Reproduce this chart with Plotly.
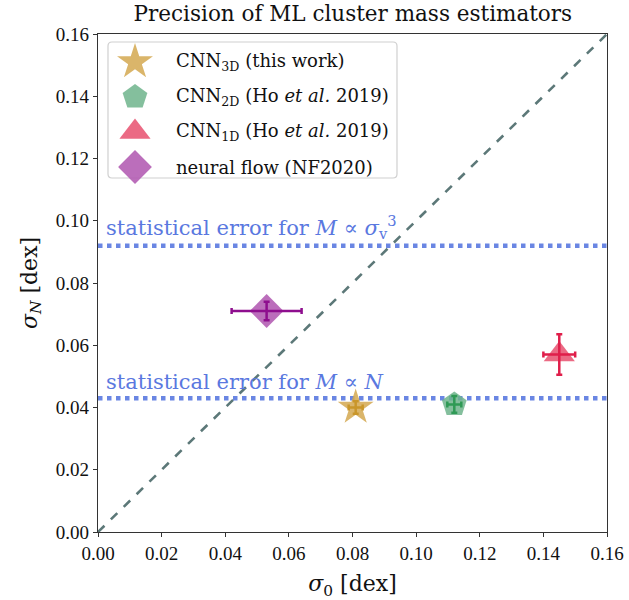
import plotly.graph_objects as go

# ---- data ----
names = ["CNN<sub>3D</sub> (this work)",
         "CNN<sub>2D</sub> (Ho <i>et al.</i> 2019)",
         "CNN<sub>1D</sub> (Ho <i>et al.</i> 2019)",
         "neural flow (NF2020)"]
sigma0 = [0.081, 0.112, 0.145, 0.053]
sigma0_err = [0.0022, 0.0022, 0.005, 0.011]
sigmaN = [0.040, 0.041, 0.057, 0.071]
sigmaN_err = [0.002, 0.0027, 0.0065, 0.003]
symbols = ["star", "pentagon", "triangle-up", "diamond"]
sizes = [27, 26, 27, 26]
fill_colors = ["rgba(212,168,80,0.85)", "rgba(110,180,140,0.85)",
               "rgba(232,80,110,0.85)", "rgba(175,85,175,0.85)"]
err_colors = ["#c9962a", "#2f9a55", "#e01e4a", "#8e0e8e"]

line_levels = [0.092, 0.043]
line_labels = ["statistical error for <i>M</i> ∝ <i>σ</i><sub>v</sub><sup>3</sup>",
               "statistical error for <i>M</i> ∝ <i>N</i>"]
label_y = [0.0955, 0.0465]
diag = [0.0, 0.16]
x_ticks = [0.0, 0.02, 0.04, 0.06, 0.08, 0.10, 0.12, 0.14, 0.16]

FONT = "DejaVu Serif"
TICKFONT = "Liberation Serif"
PLOT_W, PLOT_H = 509, 498  # plot area in px (for legend overlay axes)

fig = go.Figure()

# diagonal
fig.add_trace(go.Scatter(x=diag, y=diag, mode="lines", showlegend=False,
                         line=dict(color="#5c7878", width=2.6, dash="dash"),
                         hoverinfo="skip"))
# horizontal stat lines
for lv in line_levels:
    fig.add_trace(go.Scatter(x=diag, y=[lv, lv], mode="lines", showlegend=False,
                             line=dict(color="#6a86e3", width=4.5, dash="dot"),
                             hoverinfo="skip"))

# markers
for i in range(len(names)):
    fig.add_trace(go.Scatter(
        x=[sigma0[i]], y=[sigmaN[i]], mode="markers", name=names[i], showlegend=False,
        marker=dict(symbol=symbols[i], size=sizes[i], color=fill_colors[i],
                    line=dict(width=0)),
    ))
# error bars on top
for i in range(len(names)):
    fig.add_trace(go.Scatter(
        x=[sigma0[i]], y=[sigmaN[i]], mode="markers", showlegend=False,
        marker=dict(size=1, opacity=0),
        error_x=dict(type="data", array=[sigma0_err[i]], color=err_colors[i],
                     thickness=2.5, width=3),
        error_y=dict(type="data", array=[sigmaN_err[i]], color=err_colors[i],
                     thickness=2.5, width=3),
        hoverinfo="skip",
    ))

# manual legend on an overlay pixel-unit axis pair
leg_x, leg_text_x = 37, 76
leg_rows = [28, 63, 98, 133]
bx0, bx1, by0, by1, r = 10, 299, 8, 144, 4
fig.add_shape(type="path", xref="x2", yref="y2", layer="below",
              path=(f"M {bx0+r},{by0} L {bx1-r},{by0} Q {bx1},{by0} {bx1},{by0+r} "
                    f"L {bx1},{by1-r} Q {bx1},{by1} {bx1-r},{by1} L {bx0+r},{by1} "
                    f"Q {bx0},{by1} {bx0},{by1-r} L {bx0},{by0+r} Q {bx0},{by0} {bx0+r},{by0} Z"),
              line=dict(color="#d0d0d0", width=1.2), fillcolor="rgba(0,0,0,0)")
for i in range(len(names)):
    fig.add_trace(go.Scatter(
        x=[leg_x], y=[leg_rows[i]], mode="markers", showlegend=False,
        xaxis="x2", yaxis="y2", hoverinfo="skip",
        marker=dict(symbol=symbols[i], size=sizes[i], color=fill_colors[i],
                    opacity=1, line=dict(width=0)),
    ))
for nm, ry in zip(names, leg_rows):
    fig.add_annotation(x=leg_text_x, y=ry, xref="x2", yref="y2", text=nm,
                       showarrow=False, xanchor="left", yanchor="middle",
                       font=dict(family=FONT, size=18, color="#111"))

for t, yy in zip(line_labels, label_y):
    fig.add_annotation(x=0.002, y=yy, text=t, showarrow=False, xanchor="left",
                       yanchor="bottom", yshift=-9,
                       font=dict(family=FONT, size=21, color="#5a78e0"))

axis_common = dict(showline=True, linecolor="#333", linewidth=1.3, mirror=True,
                   ticks="outside", ticklen=4, tickcolor="#333", showgrid=False,
                   zeroline=False, automargin=False,
                   tickfont=dict(family=TICKFONT, size=19, color="#111"),
                   range=[0, 0.16], tickvals=x_ticks, tickformat=".2f")

fig.update_layout(
    width=629, height=600,
    margin=dict(l=98, r=22, t=34, b=68),
    paper_bgcolor="white", plot_bgcolor="white",
    title=dict(text="Precision of ML cluster mass estimators", x=0.561, xanchor="center",
               y=0.977, yanchor="middle",
               font=dict(family=FONT, size=21.5, color="#111")),
    xaxis=dict(**axis_common,
               title=dict(text="<i>σ</i><sub>0</sub> [dex]", standoff=14,
                          font=dict(family=FONT, size=22, color="#111"))),
    yaxis=dict(**axis_common,
               title=dict(text="<i>σ</i><sub><i>N</i></sub> [dex]", standoff=12,
                          font=dict(family=FONT, size=22, color="#111"))),
    xaxis2=dict(overlaying="x", range=[0, PLOT_W], visible=False, fixedrange=True),
    yaxis2=dict(overlaying="y", range=[PLOT_H, 0], visible=False, fixedrange=True),
    showlegend=False,
)

fig.write_html("out.html")
